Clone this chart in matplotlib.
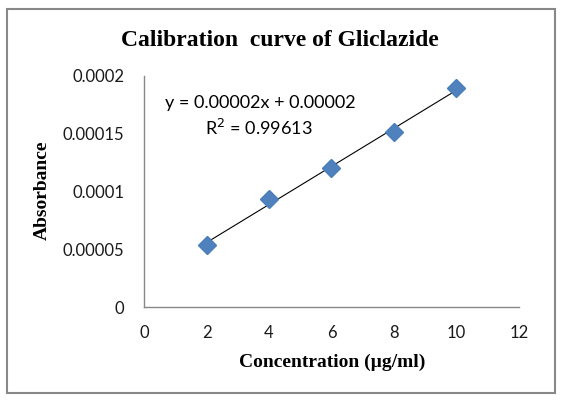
import numpy as np
import matplotlib.pyplot as plt
from matplotlib.patches import Rectangle

# concentration (ug/ml) and absorbance
conc = [2, 4, 6, 8, 10]
absorb = [0.0000537, 0.0000935, 0.0001203, 0.0001515, 0.0001896]
xticks = [0, 2, 4, 6, 8, 10, 12]
yticks = [0, 0.00005, 0.0001, 0.00015, 0.0002]
ytick_labels = ['0', '0.00005', '0.0001', '0.00015', '0.0002']

fig = plt.figure(figsize=(5.63, 4), dpi=100)
ax = fig.add_axes([0.2558, 0.2325, 0.666, 0.5775])

# linear trend line
m, c = np.polyfit(conc, absorb, 1)
xs = np.array([conc[0], conc[-1]])
ax.plot(xs, m*xs + c, color='black', linewidth=0.8)
ax.plot(conc, absorb, 'D', color='#4F81BD', markersize=9, markeredgecolor='#4A7EBB')

ax.set_xlim(0, 12)
ax.set_ylim(0, 0.0002)
ax.set_xticks(xticks)
ax.set_yticks(yticks)
ax.set_yticklabels(ytick_labels)
ax.tick_params(length=0, labelsize=12, colors='#1a1a1a')
for lab in ax.get_xticklabels() + ax.get_yticklabels():
    lab.set_family('Lato')
ax.tick_params(axis='x', pad=13)
ax.tick_params(axis='y', pad=14)
for s in ['top', 'right']:
    ax.spines[s].set_visible(False)
for s in ['left', 'bottom']:
    ax.spines[s].set_color('#888888')
    ax.spines[s].set_linewidth(1)

ax.text(0.67, 0.0001766, 'y = 0.00002x + 0.00002', fontsize=13, family='Lato', va='center')
ax.text(1.95, 0.000155, 'R$^2$ = 0.99613', fontsize=13, family='Lato', va='center')

fig.text(0.497, 0.9, 'Calibration  curve of Gliclazide', ha='center', va='center',
         fontsize=17, fontweight='bold', family='Liberation Serif')
fig.text(0.075, 0.525, 'Absorbance', ha='center', va='center', rotation=90,
         fontsize=14, fontweight='bold', family='Liberation Serif')
fig.text(0.59, 0.095, 'Concentration (\u00b5g/ml)', ha='center', va='center',
         fontsize=14, fontweight='bold', family='Liberation Serif')

fig.patches.append(Rectangle((0.012, 0.018), 0.974, 0.96, transform=fig.transFigure,
                             fill=False, edgecolor='#888888', linewidth=1.5))

fig.savefig('out.png', dpi=100)
